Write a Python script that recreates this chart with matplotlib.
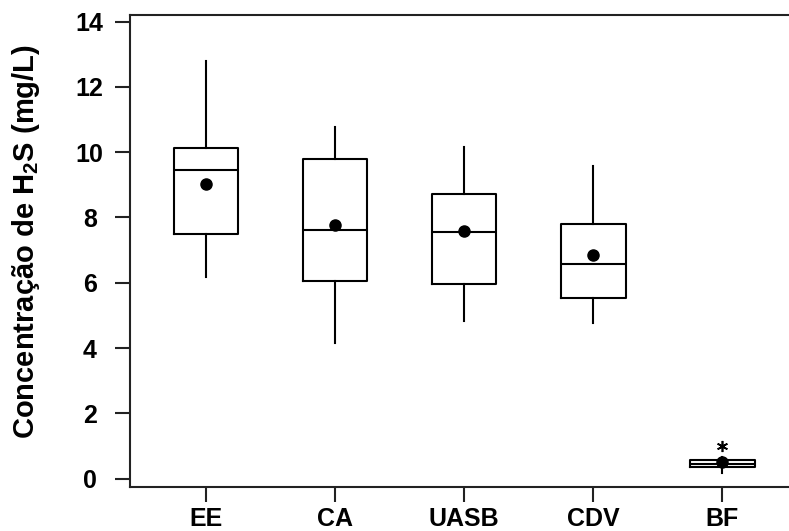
import matplotlib
matplotlib.use('Agg')
from matplotlib import pyplot as plt

grupos  = ['EE', 'CA', 'UASB', 'CDV', 'BF']
q1      = [7.50, 6.04, 5.97, 5.53, 0.36]
mediana = [9.46, 7.62, 7.55, 6.58, 0.45]
q3      = [10.14, 9.79, 8.72, 7.79, 0.56]
w_min   = [6.19, 4.15, 4.83, 4.78, 0.17]
w_max   = [12.78, 10.77, 10.15, 9.59, 0.66]
media   = [9.03, 7.77, 7.57, 6.85, 0.51]
outliers = [[], [], [], [], [1.0]]

y_ticks = [0, 2, 4, 6, 8, 10, 12, 14]

plt.rcParams['mathtext.fontset'] = 'custom'
plt.rcParams['mathtext.bf'] = 'Liberation Sans:bold'
plt.rcParams['mathtext.rm'] = 'Liberation Sans:bold'

fig = plt.figure(figsize=(7.89, 5.31), dpi=100)
ax = fig.add_axes([0.1648, 0.0834, 1.0 - 0.1648, 0.9718 - 0.0834])

stats = []
for i in range(len(grupos)):
    stats.append({'label': grupos[i], 'q1': q1[i], 'med': mediana[i], 'q3': q3[i],
                  'whislo': w_min[i], 'whishi': w_max[i], 'mean': media[i],
                  'fliers': outliers[i]})

lw = 1.5
ax.bxp(stats, positions=range(1, 6), widths=0.5, showmeans=True, showcaps=False,
       boxprops=dict(color='black', linewidth=lw),
       medianprops=dict(color='black', linewidth=lw),
       whiskerprops=dict(color='black', linewidth=lw),
       meanprops=dict(marker='o', markerfacecolor='black', markeredgecolor='black', markersize=8),
       flierprops=dict(marker=(6, 2, 0), markerfacecolor='black', markeredgecolor='black',
                       markersize=8, markeredgewidth=1.2))

ax.set_xlim(0.413, 5.515)
ax.set_ylim(-0.245, 14.2)
ax.set_yticks(y_ticks)
ax.set_xticks(range(1, 6))
ax.set_xticklabels(grupos)

narrow = ['Liberation Sans Narrow', 'Liberation Sans', 'DejaVu Sans']
for lab in ax.get_xticklabels() + ax.get_yticklabels():
    lab.set_family(narrow)
    lab.set_fontweight('bold')
    lab.set_fontsize(18)
for lab in ax.get_yticklabels():
    lab.set_horizontalalignment('center')

ax.tick_params(axis='both', direction='out', length=11, width=1.5, color='#222222')
ax.tick_params(axis='x', pad=3.5)
ax.tick_params(axis='y', pad=18)

for s in ['left', 'bottom', 'top']:
    ax.spines[s].set_linewidth(1.5)
    ax.spines[s].set_color('#222222')
ax.spines['right'].set_visible(False)

ax.set_ylabel(r'Concentração de H$_{\mathbf{2}}$S (mg/L)', fontsize=21, fontweight='bold',
              family=['Liberation Sans', 'DejaVu Sans'])
ax.yaxis.set_label_coords(-0.1335, 0.52)

fig.savefig('out.png', dpi=100)
